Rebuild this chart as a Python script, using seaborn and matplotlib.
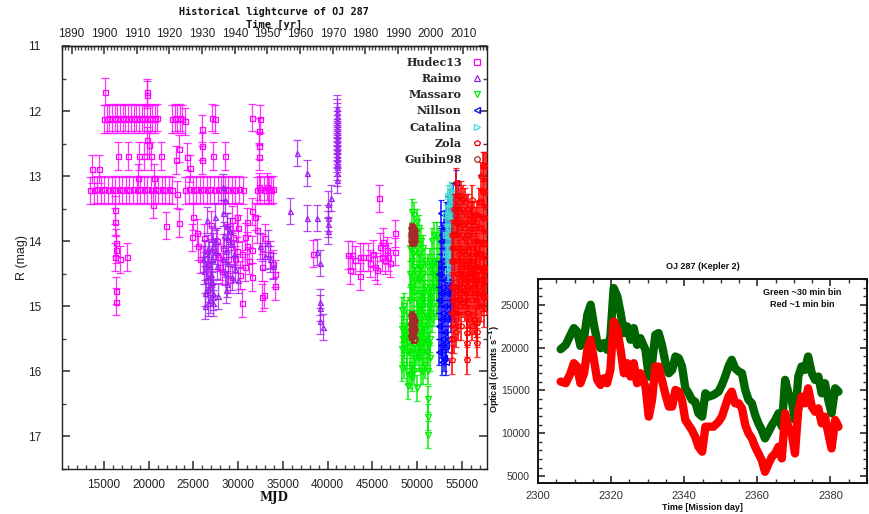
import matplotlib
matplotlib.use("Agg")
import matplotlib.pyplot as plt
import seaborn as sns
import pandas as pd
from matplotlib.lines import Line2D
from matplotlib.ticker import MultipleLocator, FixedLocator
from matplotlib.colors import to_rgba

# ---------------- data: historical light curve (MJD, R mag) ----------------
hudec_mjd = [
    # ~12.1 mag plateau
    15000, 15300, 15600, 15900, 16200, 16500, 16800, 17100, 17400, 17700, 18000,
    18300, 18600, 18900, 19200, 19500, 19800, 20100, 20400, 20700, 20900,
    22600, 22900, 23200, 23500, 23750, 27100, 27400, 31600, 32400,
    # ~13.2 mag plateau
    13450, 13850, 14250, 14650, 15050, 15450, 15850, 16250, 16650, 17050, 17450,
    17850, 18250, 18650, 19050, 19450, 19850, 20250, 20650, 21050, 21450, 21850,
    22250, 22600, 24100, 24500, 24900, 25300, 25700, 26100, 26500, 26900, 27300,
    27700, 28100, 28500, 28900, 29300, 29700, 30100, 30550, 32100, 32500, 32900,
    33300, 33700, 33900,
    # scattered points
    15150, 13660, 14480, 16570, 17680, 18880, 19440, 20290, 21410, 19810, 19810,
    20070, 19810, 18800, 20560, 20450, 16200, 16200, 16380, 16270, 17570, 16820,
    16380, 16380, 16380, 21930, 23350, 23090, 23420, 23160, 24030, 24280, 24650,
    24840, 25990, 25990, 25990, 27220, 28530, 32340, 32340, 32340, 32340, 31520,
    31860, 33190, 33450,
    24990, 25370, 25560, 25740, 26670, 27600, 28340, 28900, 29090, 29460, 30020,
    30400, 30400, 30770, 30960, 31520, 31520, 32080, 32640, 32640, 32640, 32890,
    33560, 33940, 34120, 34120, 28720, 29280, 29840, 30770, 27970, 29650, 30210,
    26200, 27000, 27800, 28200, 29900, 31200, 31000, 33000,
    38380,
    42320, 42510, 42700, 43070, 43630, 43630, 44000, 44560, 45120, 45310, 45500,
    45750, 45870, 46060, 46240, 46430, 46620, 46800, 46990, 47550, 47550, 44750,
]
hudec_mag = [
    12.12, 12.12, 12.1, 12.12, 12.1, 12.12, 12.1, 12.12, 12.1, 12.12, 12.1,
    12.12, 12.1, 12.12, 12.1, 12.12, 12.1, 12.12, 12.1, 12.12, 12.1,
    12.12, 12.1, 12.12, 12.1, 12.12, 12.1, 12.12, 12.1, 12.12,
    13.22, 13.22, 13.2, 13.22, 13.2, 13.22, 13.2, 13.22, 13.2, 13.22, 13.2,
    13.22, 13.2, 13.22, 13.2, 13.22, 13.2, 13.22, 13.2, 13.22, 13.2, 13.22,
    13.2, 13.22, 13.22, 13.2, 13.22, 13.2, 13.22, 13.2, 13.22, 13.2, 13.22,
    13.2, 13.22, 13.2, 13.22, 13.2, 13.22, 13.2, 13.22, 13.22, 13.2, 13.22,
    13.2, 13.22, 13.2,
    11.70, 12.89, 12.89, 12.69, 12.69, 12.69, 12.69, 12.69, 12.69, 11.71, 11.75,
    12.52, 12.45, 13.03, 13.03, 13.44, 13.52, 13.70, 14.02, 14.24, 14.24, 14.28,
    14.13, 14.76, 14.93, 13.76, 13.72, 12.75, 12.58, 13.28, 12.16, 12.70, 12.88,
    13.94, 12.27, 12.54, 12.75, 12.69, 12.69, 12.31, 12.53, 12.70, 13.16, 13.54,
    13.62, 13.16, 13.20,
    13.62, 13.87, 14.08, 14.28, 14.35, 14.00, 14.10, 14.28, 14.59, 13.93, 13.80,
    14.20, 14.95, 14.40, 14.07, 14.55, 14.13, 13.82, 14.10, 14.40, 14.86, 14.82,
    14.20, 14.35, 14.50, 14.69, 13.77, 13.67, 13.62, 13.93, 14.39, 14.28, 14.52,
    13.95, 13.75, 14.25, 14.45, 14.15, 14.30, 13.70, 13.95,
    14.19,
    14.21, 14.44, 14.21, 14.29, 14.54, 14.24, 14.24, 14.24, 14.19, 14.39, 14.44,
    13.34, 14.09, 14.24, 14.01, 14.29, 14.14, 14.24, 14.34, 13.88, 14.16, 14.34,
]

raimo_mjd = [
    26300, 26490, 26670, 26860, 27050, 27050, 27230, 27420, 27600, 26860, 26490,
    26110, 27230, 27790, 28340, 28530, 28340, 28720, 28900, 28340, 28530, 28900,
    29650, 30020, 32450, 33000, 33560, 33940, 33380,
    26200, 26400, 26600, 26800, 27000, 27200, 27400, 26300, 26700, 27100, 27500,
    26250, 26650, 27150, 28450, 28650, 28800, 29100, 29300, 29500, 28600, 29200,
    36590, 37700, 35850, 37700, 38830, 40070, 40400, 40070, 40070, 40070, 38860,
    39150, 39150, 39150, 39150, 39500,
    41110, 41110, 41110, 41110, 41110, 41110, 41110, 41110, 41110, 41110, 41110,
    41110, 41110, 41110, 41110, 41110, 41020, 41020,
]
raimo_mag = [
    14.18, 14.38, 14.74, 14.53, 14.28, 13.97, 14.79, 13.62, 14.38, 14.90, 13.67,
    14.28, 14.07, 14.84, 13.16, 13.36, 13.57, 13.77, 13.97, 14.28, 14.48, 14.33,
    14.43, 14.59, 14.07, 14.23, 14.28, 14.38, 14.02,
    14.45, 14.60, 14.95, 14.65, 14.50, 14.85, 14.15, 14.80, 14.20, 14.62, 14.00,
    15.00, 14.10, 14.95, 13.90, 14.15, 14.65, 13.85, 14.55, 14.20, 14.75, 14.05,
    12.64, 12.95, 13.54, 13.64, 13.64, 13.43, 13.33, 13.64, 13.74, 13.85, 14.16,
    14.34, 14.94, 15.02, 15.23, 15.32,
    11.95, 12.02, 12.08, 12.14, 12.20, 12.26, 12.32, 12.38, 12.44, 12.50, 12.56,
    12.62, 12.68, 12.74, 12.80, 12.86, 12.95, 13.06,
]

massaro_mjd = [
    48300, 48300, 48300, 48300, 48600, 48600, 48600, 48600, 48900, 48900, 48900, 48900,
    49000, 49200, 49200, 49200, 49200, 49200, 49200,
    49450, 49450, 49450, 49450, 49450, 49450, 49450, 49450,
    49700, 49700, 49700, 49700, 49700, 49700, 49700,
    49950, 49950, 49950, 49950, 49950, 49950, 49950,
    50200, 50200, 50200, 50200, 50200, 50200,
    50450, 50450, 50450, 50450, 50450, 50450,
    50700, 50700, 50700, 50700, 50700, 50700,
    50950, 50950, 50950, 50950, 50950,
    51200, 51200, 51200, 51200, 51200, 51200, 51200, 51200,
    51450, 51450, 51450, 51450, 51450,
    51700, 51700, 51700, 51700, 51950, 51950, 51950, 51950,
    52200, 52200, 52200, 52200, 52450, 52450, 52450,
    48450, 48750, 49050, 49325, 49575, 49825, 50075, 50325, 50575, 50825, 51075,
    51325, 51575, 51825, 52075, 52325,
    49325, 49575, 49825, 50075, 50325, 50575, 50825, 51075, 51325,
]
massaro_mag = [
    15.05, 15.35, 15.65, 15.95, 15.0, 15.3, 15.6, 15.9, 15.1, 15.4, 15.7, 16.0,
    16.23, 14.1, 14.5, 14.9, 15.3, 15.7, 16.05,
    13.55, 13.9, 14.3, 14.7, 15.1, 15.5, 15.9, 16.1,
    13.6, 14.0, 14.4, 14.8, 15.2, 15.6, 16.0,
    13.7, 14.1, 14.5, 14.9, 15.3, 15.7, 16.25,
    13.8, 14.2, 14.6, 15.0, 15.4, 15.8,
    14.0, 14.4, 14.8, 15.2, 15.6, 16.0,
    14.1, 14.5, 14.9, 15.3, 15.7, 16.0,
    14.3, 14.7, 15.1, 15.5, 15.9,
    14.4, 14.8, 15.2, 15.6, 16.0, 16.43, 16.7, 16.97,
    14.3, 14.7, 15.1, 15.5, 15.8,
    14.0, 14.4, 14.8, 15.2, 13.9, 14.3, 14.7, 15.1,
    13.9, 14.3, 14.7, 15.0, 14.0, 14.4, 14.8,
    15.5, 15.45, 15.55, 14.7, 14.2, 14.6, 15.1, 14.4, 15.0, 14.8, 15.3,
    15.0, 14.9, 14.5, 14.5, 14.6,
    15.5, 15.3, 15.8, 15.5, 15.6, 15.4, 15.5, 15.7, 15.6,
]

nillson_mjd = [
    52450, 52450, 52450, 52450,
    52650, 52650, 52650, 52650, 52650, 52650,
    52850, 52850, 52850, 52850, 52850, 52850,
    53050, 53050, 53050, 53050, 53050, 53050,
    53250, 53250, 53250, 53250, 53250, 53250, 53250,
    53450, 53450, 53450, 53450, 53450, 53450,
    53650, 53650, 53650, 53650, 53650,
    53850, 53850, 53850, 53850, 53850,
    54000, 54000, 54350, 54350,
]
nillson_mag = [
    14.5, 14.9, 15.3, 15.7,
    13.56, 14.0, 14.4, 14.8, 15.2, 15.6,
    13.9, 14.3, 14.7, 15.1, 15.5, 15.85,
    13.8, 14.2, 14.6, 15.0, 15.4, 15.8,
    13.6, 14.0, 14.4, 14.8, 15.2, 15.6, 15.85,
    13.5, 13.9, 14.3, 14.7, 15.1, 15.5,
    13.4, 13.8, 14.2, 14.6, 15.0,
    13.6, 14.0, 14.4, 14.8, 15.2,
    13.3, 13.7, 13.1, 13.5,
]

catalina_mjd = [
    53300, 53300, 53300, 53500, 53500, 53500, 53500, 53500,
    53700, 53700, 53700, 53700, 53700, 53900, 53900, 53900, 53900,
    54100, 54100, 54100, 54700, 54700, 55000, 55000, 55600, 55600,
]
catalina_mag = [
    13.6, 13.9, 14.2, 13.3, 13.6, 13.9, 14.2, 14.45,
    13.25, 13.5, 13.8, 14.1, 14.4, 13.3, 13.6, 13.9, 14.2,
    13.35, 13.7, 14.0, 13.5, 13.8, 13.4, 13.7, 13.9, 14.2,
]

zola_mjd = [
    53950, 53950, 53950, 53950, 53950, 53950,
    54150, 54150, 54150, 54150, 54150, 54150,
    54350, 54350, 54350, 54350, 54350, 54350, 54350,
    54550, 54550, 54550, 54550, 54550, 54550,
    54750, 54750, 54750, 54750, 54750,
    54950, 54950, 54950, 54950, 54950, 54950,
    55150, 55150, 55150, 55150, 55150,
    55350, 55350, 55350, 55350, 55350,
    55550, 55550, 55550, 55550, 55550,
    55650, 55650, 55650,
    55750, 55750, 55750, 55750, 55750,
    55950, 55950, 55950, 55950, 55950,
    56120, 56120,
    56150, 56150, 56150, 56150, 56150,
    56350, 56350, 56350, 56350, 56350,
    56550, 56550, 56550, 56550, 56550,
    56770, 56770, 56770, 56770, 56770, 56770, 56770,
    56950, 56950, 56950, 56950, 56950,
    57150, 57150, 57150, 57150, 57150, 57150,
    57350, 57350, 57350, 57350, 57350, 57350,
    57550, 57550, 57550, 57550, 57550, 57550, 57550,
    57750, 57750, 57750, 57750, 57750, 57750,
    54050, 54250, 54450, 54650, 54850, 55050, 55250, 55450, 55850, 56050, 56250,
    56450, 56650, 56850, 57050, 57250, 57450, 57650,
]
zola_mag = [
    13.9, 14.3, 14.7, 15.1, 15.5, 15.82,
    13.5, 13.9, 14.3, 14.7, 15.1, 15.5,
    13.1, 13.5, 13.9, 14.3, 14.7, 15.1, 15.4,
    13.3, 13.7, 14.1, 14.5, 14.9, 15.3,
    13.4, 13.8, 14.2, 14.6, 15.0,
    13.3, 13.7, 14.1, 14.5, 14.9, 15.3,
    13.35, 13.75, 14.15, 14.55, 14.95,
    13.4, 13.8, 14.2, 14.6, 15.0,
    13.5, 13.9, 14.3, 14.7, 15.1,
    15.41, 15.56, 15.82,
    13.5, 13.9, 14.3, 14.7, 15.1,
    13.6, 14.0, 14.4, 14.8, 15.2,
    13.36, 13.62,
    13.7, 14.1, 14.5, 14.9, 15.3,
    13.6, 14.0, 14.4, 14.8, 15.2,
    13.7, 14.1, 14.5, 14.9, 15.25,
    13.6, 14.0, 14.4, 14.8, 15.25, 15.4, 15.56,
    13.4, 13.8, 14.2, 14.6, 15.0,
    13.0, 13.4, 13.8, 14.2, 14.6, 15.0,
    12.85, 13.25, 13.65, 14.05, 14.45, 14.85,
    12.85, 13.25, 13.65, 14.05, 14.45, 14.85, 15.1,
    12.85, 13.25, 13.65, 14.05, 14.45, 14.85,
    14.1, 14.9, 13.7, 14.8, 14.3, 14.7, 14.4, 14.8, 14.5, 14.3, 14.6,
    14.5, 14.2, 14.7, 14.2, 14.6, 14.4, 14.6,
]

guibin_mjd = [49500, 49500, 49500, 49500, 49560, 49560, 49560, 49620, 49620, 49620,
              49500, 49500, 49500, 49500, 49560, 49560, 49560, 49620, 49620, 49620]
guibin_mag = [13.80, 13.87, 13.94, 14.0, 13.82, 13.9, 13.98, 13.85, 13.92, 14.0,
              15.15, 15.25, 15.35, 15.45, 15.2, 15.3, 15.4, 15.22, 15.35, 15.5]

year_ticks = [1890, 1900, 1910, 1920, 1930, 1940, 1950, 1960, 1970, 1980, 1990, 2000, 2010]
mjd_ticks = [15000, 20000, 25000, 30000, 35000, 40000, 45000, 50000, 55000]

# ---------------- data: Kepler K2 light curve ----------------
k2_day = [2306.2, 2307.6, 2308.9, 2309.8, 2310.7, 2311.6, 2312.6, 2313.5, 2314.4, 2315.3,
          2316.2, 2317.1, 2318.0, 2318.9, 2319.8, 2320.7, 2321.7, 2322.6, 2323.5, 2324.4,
          2325.3, 2326.2, 2327.1, 2328.0, 2329.4, 2330.3, 2331.2, 2332.1, 2333.0, 2333.9,
          2334.9, 2335.8, 2336.7, 2337.6, 2338.5, 2339.4, 2340.3, 2341.2, 2342.1, 2343.0,
          2343.9, 2344.9, 2345.8, 2346.7, 2348.0, 2349.4, 2350.3, 2351.2, 2352.1, 2353.0,
          2353.9, 2354.9, 2355.8, 2356.7, 2357.6, 2358.5, 2359.4, 2360.3, 2361.2, 2362.1,
          2363.1, 2364.0, 2364.9, 2365.8, 2366.7, 2367.6, 2368.5, 2369.4, 2370.3, 2371.2,
          2372.1, 2373.0, 2373.9, 2374.9, 2375.8, 2376.7, 2377.6, 2378.5, 2379.4, 2380.3,
          2381.3, 2382.2]
k2_green = [19810, 20320, 21490, 22270, 21880, 20200, 21100, 23830, 25000, 22660,
            20710, 19930, 20520, 19740, 21300, 26950, 25970, 24030, 21690, 22470,
            20910, 22270, 20320, 21100, 19740, 16620, 18180, 21490, 21690, 20320,
            18180, 17010, 17400, 18960, 18760, 17790, 15250, 14670, 13890, 13690,
            12330, 11940, 14670, 14280, 14470, 14860, 15640, 16620, 17790, 18570,
            17600, 17200, 17010, 15060, 13890, 13500, 12130, 11160, 10380, 9400,
            10190, 10960, 11550, 12330, 10770, 16230, 14670, 13890, 11550, 16620,
            17790, 17400, 18960, 17010, 16230, 16620, 14670, 15840, 13890, 12330,
            15250, 14860]
k2_red = [16030, 15840, 17010, 18180, 17790, 15840, 17010, 19740, 20910, 18570,
          16230, 15640, 16420, 15840, 17400, 23050, 22080, 19740, 17010, 18180,
          16620, 18180, 15840, 17010, 15450, 11940, 13890, 17790, 17790, 16230,
          14470, 13110, 13110, 15060, 14860, 13890, 11550, 10960, 10380, 9600,
          8430, 7850, 10770, 10770, 10770, 11350, 11940, 13110, 14280, 14860,
          13500, 13500, 12910, 10960, 9990, 9400, 8430, 7650, 6870, 5510,
          6480, 7260, 7650, 8430, 7060, 12330, 10770, 9990, 7650, 12720,
          14280, 13500, 15250, 13110, 12520, 12910, 11160, 11940, 9990, 8230,
          11550, 10770]

# ---------------- styling ----------------
sns.set_theme(style="ticks")
plt.rcParams['font.family'] = ['Liberation Sans', 'DejaVu Sans']
plt.rcParams['axes.linewidth'] = 1.0

W, H = 869, 514
fig = plt.figure(figsize=(W / 100, H / 100), dpi=100)
fig.patch.set_facecolor('white')

ax = fig.add_axes([61.7 / W, (H - 469) / H, (486.7 - 61.7) / W, (469 - 46) / H])
ax.set_facecolor('white')

# name, x, y, yerr, colour, marker, marker size, cap size, error line width
series = [
    ("Hudec13", hudec_mjd, hudec_mag, 0.21, '#ff00ff', 's', 3.6, 2.6, 0.9),
    ("Raimo", raimo_mjd, raimo_mag, 0.2, '#a020f0', '^', 3.6, 2.6, 0.9),
    ("Massaro", massaro_mjd, massaro_mag, 0.2, '#00ee00', 'v', 3.8, 2.2, 1.3),
    ("Guibin98", guibin_mjd, guibin_mag, 0.07, '#a52a2a', 'o', 4.6, 2.0, 1.4),
    ("Nillson", nillson_mjd, nillson_mag, 0.2, '#0000ff', '<', 3.8, 2.2, 1.3),
    ("Catalina", catalina_mjd, catalina_mag, 0.16, '#40e0d0', '>', 3.8, 2.2, 1.3),
    ("Zola", zola_mjd, zola_mag, 0.22, '#ff0000', 'p', 4.0, 2.2, 1.4),
]
for i, (name, x, y, err, col, mk, ms, cap, elw) in enumerate(series):
    mew = 1.5 if name == "Guibin98" else 0.9
    ax.errorbar(x, y, yerr=err, fmt=mk, mfc='none', mec=col, mew=mew, ms=ms,
                ecolor=to_rgba(col, 0.8), elinewidth=elw, capsize=cap, capthick=0.9,
                zorder=3 + i)

ax.set_xlim(10270, 57800)
ax.set_ylim(17.5, 11)
ax.xaxis.set_major_locator(FixedLocator(mjd_ticks))
ax.xaxis.set_minor_locator(MultipleLocator(1000))
ax.yaxis.set_major_locator(MultipleLocator(1))
ax.yaxis.set_minor_locator(MultipleLocator(0.5))
ax.tick_params(axis='both', which='both', direction='in', right=True, top=False,
               labelsize=8.5, labelcolor='#222222', color='#444444')
ax.tick_params(axis='y', which='major', length=6, pad=15)
ax.tick_params(axis='y', which='minor', length=3)
ax.tick_params(axis='x', which='major', length=6, pad=7)
ax.tick_params(axis='x', which='minor', length=3)
for s in ax.spines.values():
    s.set_color('#222222')

def mjd2yr(m):
    return 1858.877 + m / 365.25

def yr2mjd(y):
    return (y - 1858.877) * 365.25

sec = ax.secondary_xaxis('top', functions=(mjd2yr, yr2mjd))
sec.xaxis.set_major_locator(FixedLocator(year_ticks))
sec.xaxis.set_minor_locator(MultipleLocator(1))
sec.tick_params(which='both', direction='in', labelsize=8.5, labelcolor='#222222', color='#444444', pad=4)
sec.tick_params(which='major', length=6)
sec.tick_params(which='minor', length=3)

ax.set_ylabel("R (mag)", fontsize=9, color='#222222')
ax.yaxis.set_label_coords(-0.079, 0.5)
ax.set_xlabel("MJD", fontsize=8.5, fontweight='bold', family='DejaVu Serif', color='#111111')
ax.xaxis.set_label_coords(0.5, -0.052)

fig.text(274 / W, 1 - 12 / H, "Historical lightcurve of OJ 287", ha='center', va='center',
         fontsize=7.3, fontweight='bold', family='DejaVu Sans Mono', color='#111111')
fig.text(274 / W, 1 - 25 / H, "Time [yr]", ha='center', va='center',
         fontsize=7.5, fontweight='bold', family='DejaVu Sans Mono', color='#111111')

legend_order = ["Hudec13", "Raimo", "Massaro", "Nillson", "Catalina", "Zola", "Guibin98"]
lookup = {s[0]: s for s in series}
handles = [Line2D([], [], ls='none', marker=lookup[n][5], mfc='none', mec=lookup[n][4],
                  mew=0.9, ms=4) for n in legend_order]
leg = ax.legend(handles, legend_order, loc='upper right', bbox_to_anchor=(1.007, 0.988),
                markerfirst=False, frameon=False, handlelength=1.2, handletextpad=0.8,
                labelspacing=0.47, borderaxespad=0.1,
                prop={'family': 'DejaVu Serif', 'weight': 'bold', 'size': 8})
leg.set_zorder(20)

# ---------------- Kepler panel ----------------
ax2 = fig.add_axes([538 / W, (H - 483) / H, (867 - 538) / W, (483 - 279) / H])
ax2.set_facecolor('white')
k2 = pd.DataFrame({"day": k2_day, "green": k2_green, "red": k2_red})
sns.lineplot(data=k2, x="day", y="green", color='#006400', linewidth=6.0, ax=ax2,
             solid_joinstyle='round', solid_capstyle='round')
sns.lineplot(data=k2, x="day", y="red", color='#ff0000', linewidth=6.0, ax=ax2,
             solid_joinstyle='round', solid_capstyle='round')
ax2.set_xlim(2300, 2390)
ax2.set_ylim(4200, 28000)
ax2.xaxis.set_major_locator(MultipleLocator(20))
ax2.xaxis.set_minor_locator(MultipleLocator(5))
ax2.yaxis.set_major_locator(MultipleLocator(5000))
ax2.yaxis.set_minor_locator(MultipleLocator(1000))
ax2.tick_params(which='both', direction='in', top=True, right=True,
                labelcolor='#333333', color='#333333')
ax2.tick_params(axis='x', labelsize=8)
ax2.tick_params(axis='y', labelsize=7.5)
ax2.tick_params(which='major', length=5, pad=6)
ax2.tick_params(which='minor', length=3)
for s in ax2.spines.values():
    s.set_color('#111111')
    s.set_linewidth(1.4)
ax2.set_xlabel("Time [Mission day]", fontsize=6.5, fontweight='bold', color='#111111')
ax2.xaxis.set_label_coords(0.5, -0.10)
ax2.set_ylabel("Optical (counts s$^{\\mathbf{-1}}$)", fontsize=6.5, fontweight='bold', color='#111111')
ax2.yaxis.set_label_coords(-0.11, 0.56)
ax2.set_title("OJ 287 (Kepler 2)", fontsize=6.5, fontweight='bold', color='#111111', pad=7)
ax2.text(0.803, 0.935, "Green ~30 min bin", transform=ax2.transAxes, ha='center', va='center',
         fontsize=6.5, fontweight='bold', color='#111111')
ax2.text(0.803, 0.877, "Red ~1 min bin", transform=ax2.transAxes, ha='center', va='center',
         fontsize=6.5, fontweight='bold', color='#111111')

fig.savefig("out.png", dpi=100, facecolor='white')
